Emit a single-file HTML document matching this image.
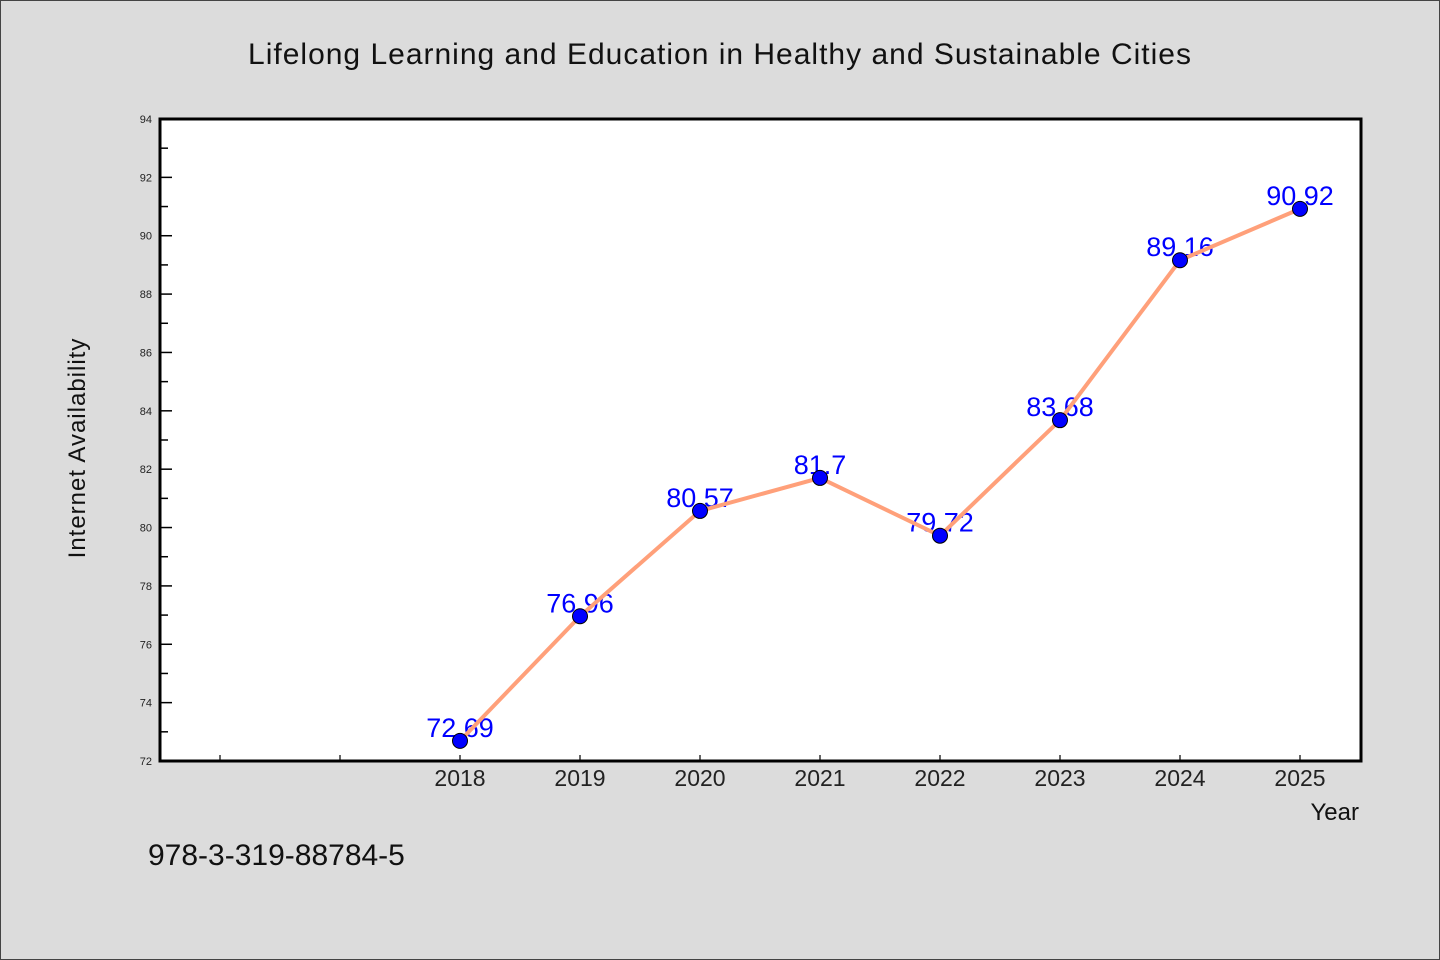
<!DOCTYPE html>
<html><head><meta charset="utf-8"><style>
html,body{margin:0;padding:0;background:#dcdcdc}
svg{display:block}
text{font-family:"WenQuanYi Zen Hei","Liberation Sans",sans-serif}
</style></head><body>
<svg id="chart" width="1440" height="960" xmlns="http://www.w3.org/2000/svg">
<rect x="0.5" y="0.5" width="1439" height="959" fill="#dcdcdc" stroke="#444"/>
<text x="720" y="64" font-size="30" text-anchor="middle" fill="#111" letter-spacing="1">Lifelong Learning and Education in Healthy and Sustainable Cities</text>
<rect x="160" y="119" width="1201" height="642" fill="#fff"/>
<g id="axes"></g>
<g id="marks"></g>
<rect x="160" y="119" width="1201" height="642" fill="none" stroke="#000" stroke-width="3"/>
<text transform="translate(85,448) rotate(-90)" font-size="24" text-anchor="middle" fill="#111" letter-spacing="1">Internet Availability</text>
<text x="1359" y="820" font-size="24" text-anchor="end" fill="#111">Year</text>
<text x="148" y="865" font-size="30" fill="#111">978-3-319-88784-5</text>
</svg>
<script>
const years = [2018, 2019, 2020, 2021, 2022, 2023, 2024, 2025];
const values = [72.69, 76.96, 80.57, 81.7, 79.72, 83.68, 89.16, 90.92];
const yTicks = [72, 74, 76, 78, 80, 82, 84, 86, 88, 90, 92, 94];
const xTickYears = [2016, 2017, 2018, 2019, 2020, 2021, 2022, 2023, 2024, 2025];

const X0 = 160, X1 = 1360, Y0 = 761, Y1 = 119;
const xMin = 2015.5, xMax = 2025.5, yMin = 72, yMax = 94;
const xs = v => X0 + (v - xMin) / (xMax - xMin) * (X1 - X0);
const ys = v => Y0 - (v - yMin) / (yMax - yMin) * (Y0 - Y1);
const NS = 'http://www.w3.org/2000/svg';
const axes = document.getElementById('axes'), marks = document.getElementById('marks');
function mk(tag, attrs, parent) { const e = document.createElementNS(NS, tag); for (const k in attrs) e.setAttribute(k, attrs[k]); parent.appendChild(e); return e; }

yTicks.forEach((t, i) => {
  const y = ys(t);
  const tk = mk('line', {x1: X0, x2: X0 + 12, y1: y, y2: y, stroke: '#000', 'stroke-width': 1.5}, axes);
  
  
  if (i < yTicks.length - 1) {
    const m = mk('line', {x1: X0, x2: X0 + 8, y1: ys(t + 1), y2: ys(t + 1), stroke: '#000', 'stroke-width': 1.5}, axes);
    
    
  }
  const lb = mk('text', {x: X0 - 8, y: y + 4, 'font-size': 11, 'text-anchor': 'end', fill: '#222'}, axes);
  lb.textContent = t;
  
  
});
xTickYears.forEach(yr => {
  const x = xs(yr);
  const tk = mk('line', {x1: x, x2: x, y1: Y0, y2: Y0 - 6, stroke: '#000', 'stroke-width': 1.2}, axes);
  
  
  if (years.includes(yr)) {
    const lb = mk('text', {x: x, y: Y0 + 25, 'font-size': 23, 'text-anchor': 'middle', fill: '#222'}, axes);
    lb.textContent = yr;
    
    
  }
});
years.forEach((yr, i) => {
  const lb = mk('text', {x: xs(yr), y: ys(values[i]) - 4, 'font-size': 27, 'text-anchor': 'middle', fill: '#0000ff'}, marks);
  lb.textContent = values[i];
  
  
});
const line = mk('polyline', {points: years.map((yr, i) => xs(yr) + ',' + ys(values[i])).join(' '), fill: 'none', stroke: '#ffa07a', 'stroke-width': 4, 'stroke-linejoin': 'round'}, marks);


years.forEach((yr, i) => {
  const c = mk('circle', {cx: xs(yr), cy: ys(values[i]), r: 7.5, fill: '#0000ff', stroke: '#000', 'stroke-width': 1}, marks);
  
  
});
</script>
</body></html>
